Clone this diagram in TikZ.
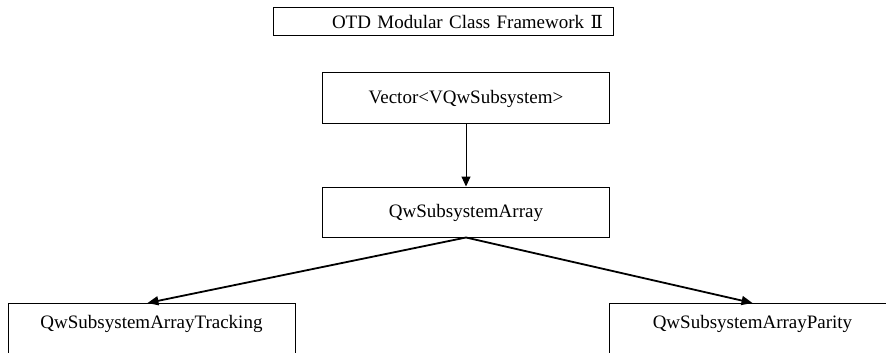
\documentclass[tikz,border=0pt]{standalone}
\usepackage{fontspec}
\setmainfont{Liberation Serif}
\newfontfamily\numeralfont{DejaVu Serif}
\usetikzlibrary{arrows.meta}
\tikzset{
  x=1pt, y=1pt,
  clsbox/.style={draw=black, line width=1pt, inner sep=0pt, minimum width=287pt,
    font=\fontsize{19}{22}\selectfont},
  midbox/.style={clsbox, text height=30pt, text depth=20pt},
  lowbox/.style={clsbox, anchor=north, text height=25pt, text depth=35pt},
  titlebox/.style={clsbox, minimum width=340pt, text width=340pt, align=left,
    text height=20.5pt, text depth=7.5pt},
  thinarrow/.style={line width=1pt, -{Triangle[length=10pt, width=9pt]}},
  thickarrow/.style={line width=1.8pt, -{Triangle[length=11pt, width=9pt]}},
}
\begin{document}
\begin{tikzpicture}
\useasboundingbox (0,0) rectangle (886,-353);
\fill[white] (0,0) rectangle (886,-353);
\clip (0,0) rectangle (886,-353);

% title banner
\node[titlebox] (title) at (443,-22)
  {\hspace*{59pt}OTD Modular Class Framework {\numeralfont\fontsize{18}{20}\selectfont Ⅱ}};

% class boxes
\node[midbox] (vec) at (466,-98) {Vector<VQwSubsystem>};
\node[midbox] (arr) at (466,-212) {QwSubsystemArray};
\node[lowbox] (trk) at (151.5,-303) {QwSubsystemArrayTracking};
\node[lowbox] (par) at (752.5,-303) {QwSubsystemArrayParity};

% inheritance connectors
\draw[thinarrow] (vec.south) -- (arr.north);
\draw[thickarrow] (arr.south) -- ([xshift=-4pt]trk.north);
\draw[thickarrow] (arr.south) -- (par.north);
\end{tikzpicture}
\end{document}
